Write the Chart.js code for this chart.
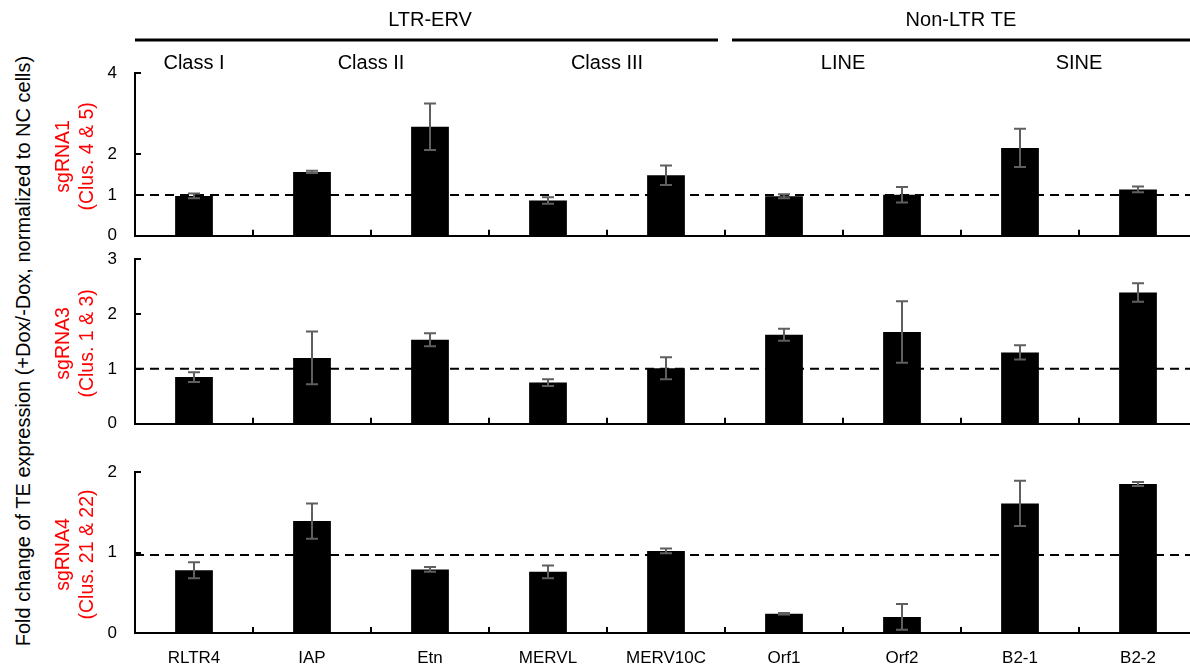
<!DOCTYPE html>
<html>
<head>
<meta charset="utf-8">
<script src="https://cdn.jsdelivr.net/npm/chart.js@4.4.0/dist/chart.umd.min.js"></script>
<style>
  html, body { margin: 0; padding: 0; background: #fff; overflow: hidden; }
  #wrap { position: relative; width: 1190px; height: 669px; overflow: hidden; }
  #wrap canvas { position: absolute; left: 0; }
  #ytitle {
    position: absolute; left: 23px; top: 351px;
    transform: translate(-50%, -50%) rotate(-90deg);
    white-space: nowrap; font: 20px "Liberation Sans", Arial, sans-serif; color: #000;
  }
</style>
</head>
<body>
<div id="wrap">
  <div id="ytitle">Fold change of TE expression (+Dox/-Dox, normalized to NC cells)</div>
  <canvas id="panel1" width="1198" height="246" style="top:0"></canvas>
  <canvas id="panel2" width="1198" height="189" style="top:245px"></canvas>
  <canvas id="panel3" width="1198" height="229" style="top:440px"></canvas>
</div>
<script>
const FONT = '"Liberation Sans", Arial, sans-serif';

// categories and header groups
const categories = ['RLTR4', 'IAP', 'Etn', 'MERVL', 'MERV10C', 'Orf1', 'Orf2', 'B2-1', 'B2-2'];
const groupLabels = ['LTR-ERV', 'Non-LTR TE'];
const groupSpans = [[0, 4], [5, 8]];
const classLabels = ['Class I', 'Class II', 'Class III', 'LINE', 'SINE'];
const classSpans = [[0, 0], [1, 2], [3, 4], [5, 6], [7, 8]];

// sgRNA1 (Clus. 4 & 5)
const sg1Values = [0.98, 1.57, 2.68, 0.87, 1.49, 0.97, 1.01, 2.16, 1.14];
const sg1Errors = [0.06, 0.03, 0.57, 0.08, 0.24, 0.05, 0.19, 0.47, 0.07];
const sg1Ticks = [0, 1, 2, 4];

// sgRNA3 (Clus. 1 & 3)
const sg3Values = [0.85, 1.20, 1.53, 0.75, 1.01, 1.62, 1.67, 1.30, 2.39];
const sg3Errors = [0.09, 0.48, 0.12, 0.06, 0.20, 0.11, 0.56, 0.13, 0.17];
const sg3Ticks = [0, 1, 2, 3];

// sgRNA4 (Clus. 21 & 22)
const sg4Values = [0.78, 1.39, 0.79, 0.76, 1.02, 0.24, 0.20, 1.61, 1.85];
const sg4Errors = [0.10, 0.22, 0.03, 0.08, 0.03, 0.01, 0.16, 0.28, 0.025];
const sg4Ticks = [0, 1, 2];

const panelNames = ['sgRNA1', 'sgRNA3', 'sgRNA4'];
const panelSubs = ['(Clus. 4 & 5)', '(Clus. 1 & 3)', '(Clus. 21 & 22)'];
const refLines = [1, 1, 0.97];

const decorPlugin = {
  id: 'decor',
  beforeDatasetsDraw(chart, args, o) {
    const { ctx, chartArea: a, scales: { y } } = chart;
    const py = y.getPixelForValue(o.refLine);
    ctx.save();
    ctx.strokeStyle = '#000';
    ctx.lineWidth = 2;
    ctx.setLineDash([9, 6]);
    ctx.beginPath();
    ctx.moveTo(a.left, py);
    ctx.lineTo(a.right, py);
    ctx.stroke();
    ctx.restore();
  },
  afterDatasetsDraw(chart, args, o) {
    const { ctx, scales: { y } } = chart;
    const vals = chart.data.datasets[0].data;
    const meta = chart.getDatasetMeta(0);
    ctx.save();
    ctx.strokeStyle = '#5f5f5f';
    ctx.lineWidth = 2;
    meta.data.forEach((bar, i) => {
      const hi = y.getPixelForValue(vals[i] + o.errors[i]);
      const lo = y.getPixelForValue(vals[i] - o.errors[i]);
      ctx.beginPath();
      ctx.moveTo(bar.x, hi); ctx.lineTo(bar.x, lo);
      ctx.moveTo(bar.x - 6, hi); ctx.lineTo(bar.x + 6, hi);
      ctx.moveTo(bar.x - 6, lo); ctx.lineTo(bar.x + 6, lo);
      ctx.stroke();
    });
    ctx.restore();
  },
  afterDraw(chart, args, o) {
    const { ctx, chartArea: a, scales: { x, y } } = chart;
    ctx.save();
    // inward tick marks
    ctx.strokeStyle = '#000';
    ctx.lineWidth = 2;
    ctx.beginPath();
    y.ticks.forEach(t => {
      const py = Math.round(y.getPixelForValue(t.value));
      ctx.moveTo(a.left, py); ctx.lineTo(a.left + 6, py);
    });
    for (let i = 1; i < categories.length; i++) {
      const px = Math.round((x.getPixelForValue(i - 1) + x.getPixelForValue(i)) / 2);
      ctx.moveTo(px, a.bottom); ctx.lineTo(px, a.bottom - 6);
    }
    ctx.stroke();

    // red panel label
    ctx.fillStyle = '#ff0000';
    ctx.font = '19.5px ' + FONT;
    ctx.textAlign = 'center';
    ctx.textBaseline = 'middle';
    const cy = (a.top + a.bottom) / 2 + 2;
    [[64, o.name], [88, o.sub]].forEach(([lx, txt]) => {
      ctx.save();
      ctx.translate(lx, cy);
      ctx.rotate(-Math.PI / 2);
      ctx.fillText(txt, 0, 0);
      ctx.restore();
    });

    // group headers on the top panel
    if (o.header) {
      const step = x.getPixelForValue(1) - x.getPixelForValue(0);
      const edgeL = i => x.getPixelForValue(i) - step / 2;
      const edgeR = i => x.getPixelForValue(i) + step / 2;
      ctx.fillStyle = '#000';
      ctx.font = '20px ' + FONT;
      ctx.lineWidth = 3;
      groupSpans.forEach(([s, e], gi) => {
        const l = edgeL(s) + (s > 0 ? 7 : 0);
        const r = edgeR(e) - (e < categories.length - 1 ? 7 : 0);
        ctx.beginPath();
        ctx.moveTo(l, 40); ctx.lineTo(r, 40);
        ctx.stroke();
        ctx.fillText(groupLabels[gi], (edgeL(s) + edgeR(e)) / 2, 20);
      });
      classSpans.forEach(([s, e], ci) => {
        const cx = (x.getPixelForValue(s) + x.getPixelForValue(e)) / 2;
        ctx.fillText(classLabels[ci], cx, 63);
      });
    }
    ctx.restore();
  }
};

function makePanel(id, cfg) {
  return new Chart(document.getElementById(id), {
    type: 'bar',
    data: {
      labels: categories,
      datasets: [{
        data: cfg.values,
        backgroundColor: '#000',
        borderWidth: 0,
        barPercentage: 0.32,
        categoryPercentage: 1
      }]
    },
    options: {
      responsive: false,
      animation: false,
      events: [],
      layout: { padding: { top: cfg.padTop, right: 1, bottom: 0, left: 0 } },
      plugins: {
        legend: { display: false },
        tooltip: { enabled: false },
        decor: {
          errors: cfg.errors,
          refLine: cfg.refLine,
          name: cfg.name,
          sub: cfg.sub,
          header: cfg.header
        }
      },
      scales: {
        x: {
          grid: { display: false, drawTicks: false },
          border: { color: '#000', width: 2 },
          ticks: {
            display: cfg.showLabels,
            color: '#000',
            font: { size: 17, family: FONT },
            padding: 15,
            maxRotation: 0,
            autoSkip: false
          },
          afterFit: s => { s.height = cfg.xHeight; }
        },
        y: {
          min: 0,
          max: cfg.max,
          grid: { display: false, drawTicks: true, tickLength: 18 },
          border: { color: '#000', width: 2 },
          ticks: { color: '#000', font: { size: 17, family: FONT }, padding: 0 },
          afterBuildTicks: s => { s.ticks = cfg.ticks.map(v => ({ value: v })); },
          afterFit: s => { s.width = 135; }
        }
      }
    },
    plugins: [decorPlugin]
  });
}

makePanel('panel1', {
  values: sg1Values, errors: sg1Errors, ticks: sg1Ticks, max: 4,
  refLine: refLines[0], name: panelNames[0], sub: panelSubs[0],
  padTop: 73, xHeight: 2, showLabels: false, header: true
});
makePanel('panel2', {
  values: sg3Values, errors: sg3Errors, ticks: sg3Ticks, max: 3,
  refLine: refLines[1], name: panelNames[1], sub: panelSubs[1],
  padTop: 14, xHeight: 2, showLabels: false, header: false
});
makePanel('panel3', {
  values: sg4Values, errors: sg4Errors, ticks: sg4Ticks, max: 2,
  refLine: refLines[2], name: panelNames[2], sub: panelSubs[2],
  padTop: 32, xHeight: 36, showLabels: true, header: false
});
</script>
</body>
</html>
